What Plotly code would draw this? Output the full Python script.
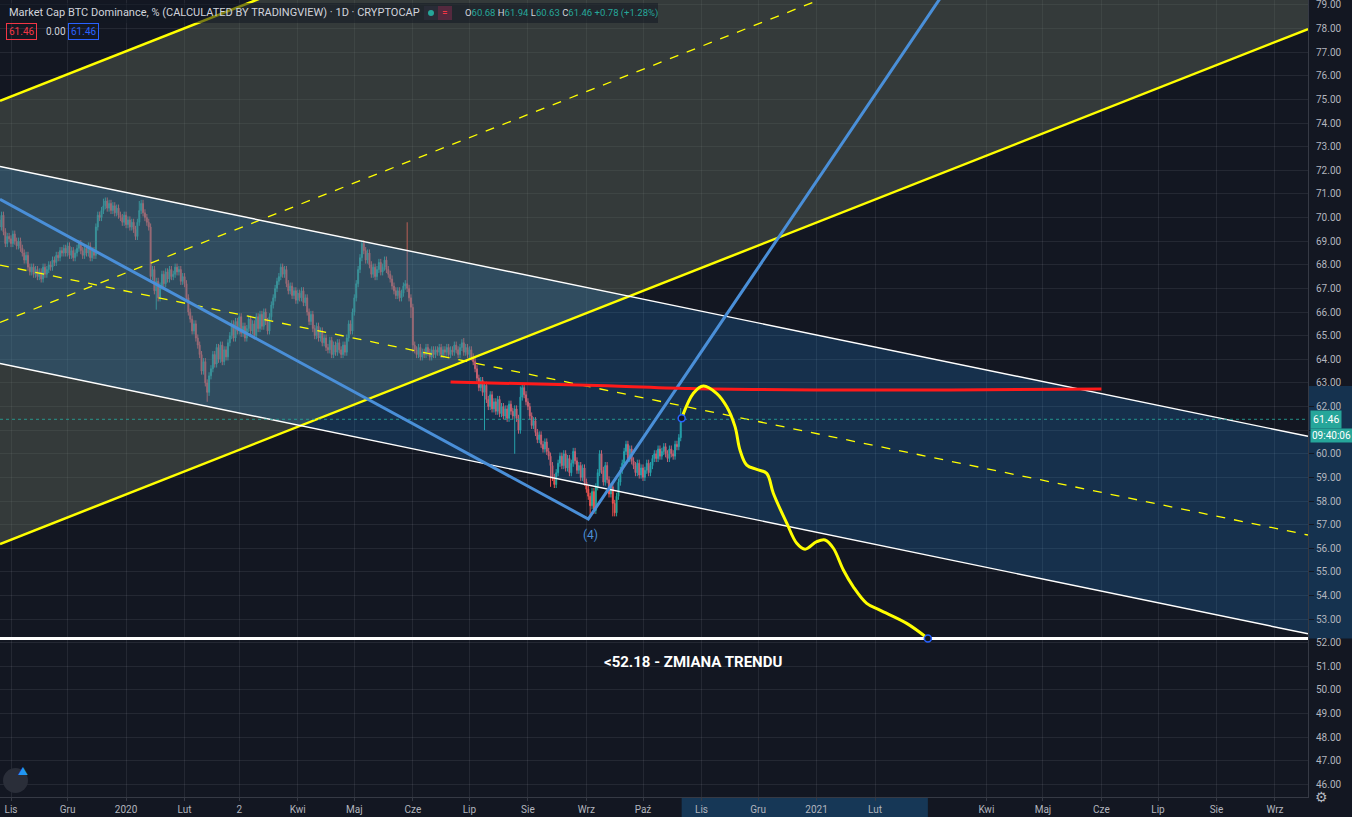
import plotly.graph_objects as go
import pandas as pd

# ---------------- data ----------------
# Daily closes, BTC dominance (%), 2019-10-26 .. 2020-10-21
closes = (
    [69.6, 70.1, 69.4, 68.9]
    + [69.2, 69.1, 68.9, 69.3, 69.0, 68.8, 69.0]
    + [68.7, 68.5, 68.2, 68.4, 67.9, 67.7, 67.9]
    + [67.6, 67.8, 67.5, 67.7, 67.4, 67.9, 67.6]
    + [67.8, 68.0, 67.9, 68.2, 68.1, 68.4, 68.3, 68.6]
    + [68.5, 68.7, 68.5, 68.8, 68.4, 68.6, 68.3, 68.5]
    + [68.7, 68.9, 68.6, 68.4, 68.7, 68.5, 68.8, 68.3, 68.6, 68.4]
    + [69.6, 70.1, 70.0, 70.3]
    + [70.5, 70.7, 70.4, 70.6, 70.3, 70.5, 70.2, 70.4, 70.1]
    + [70.0, 69.8, 70.1, 69.7, 69.9, 69.6, 69.8, 69.5, 69.2]
    + [69.8, 70.3, 70.6, 70.2, 70.0]
    + [69.8, 69.6, 67.5]
    + [67.8, 66.9, 67.3, 66.6, 67.1, 67.6, 67.2, 67.7, 67.4, 67.8, 67.5]
    + [67.6, 67.9, 67.7, 67.8, 67.3, 67.5, 67.2]
    + [66.6, 66.0, 65.7, 65.2, 65.5, 64.9, 64.6]
    + [64.2, 63.5, 63.9, 63.0, 62.6, 63.3]
    + [63.6, 64.2, 63.8, 64.5, 64.0, 64.6, 63.9, 64.4, 64.1, 64.7]
    + [65.0, 65.5, 64.9, 65.6, 65.2, 65.8, 65.1, 65.4, 64.9, 65.3, 65.7, 65.2]
    + [65.5, 65.0, 65.8, 65.3, 65.9, 65.4, 66.0, 65.6, 65.2, 65.8, 66.3]
    + [66.6, 67.0, 67.3, 67.5, 67.9, 67.6, 67.8]
    + [67.2, 66.9, 67.1, 66.7, 66.9, 66.5, 66.8, 66.6, 66.9, 66.4, 66.6]
    + [66.0, 65.6, 65.9, 65.3, 65.0, 65.4, 64.9, 65.2, 64.7, 64.9, 64.5]
    + [64.4, 64.8, 64.2, 64.6, 64.3, 64.7, 64.4, 64.2, 64.6, 64.3]
    + [64.9, 65.5, 65.2, 66.0, 66.6, 67.2, 67.8]
    + [68.3, 68.9, 68.6, 68.2, 68.5]
    + [68.0, 67.6, 67.9, 67.5, 67.8, 68.1, 67.7, 67.9, 68.2, 67.8, 67.6, 67.4, 67.1]
    + [66.9, 66.7, 66.9, 66.6, 66.8, 67.1, 67.2]
    + [67.0, 66.6, 66.2]
    + [64.6]
    + [64.4, 64.2, 64.5, 64.1, 64.3, 64.2, 64.5, 64.3, 64.1, 64.4, 64.2, 64.4, 64.3, 64.5, 64.2, 64.4, 64.3, 64.5]
    + [64.2, 64.4, 64.3, 64.6, 64.4, 64.2, 64.5, 64.7, 64.3, 64.5, 64.2, 64.4, 64.1]
    + [63.9, 63.6, 63.2, 62.8, 63.1, 62.6]
    + [62.9, 62.3, 62.0, 62.5, 61.9, 62.2, 61.8, 62.3, 61.7, 62.0, 61.6, 61.9, 61.5, 62.1, 61.8, 61.6, 61.9, 61.5, 61.0]
    + [62.4, 62.8, 62.5, 62.2, 62.0]
    + [61.6, 61.2, 61.4, 60.9, 60.6, 60.8, 60.4, 60.2, 60.5, 60.1, 59.9]
    + [59.5, 59.0, 58.7, 59.2, 59.6]
    + [59.9, 59.5, 60.0, 59.4, 59.8, 59.2, 59.6, 60.1, 59.7, 59.3, 59.5, 59.0, 59.4, 58.8, 58.5]
    + [58.2, 57.8, 58.4, 57.6, 58.6, 59.2]
    + [60.0, 59.3, 58.8, 59.5, 58.9, 58.3, 58.6, 57.9, 57.5, 58.2]
    + [58.8, 59.3, 59.6, 60.1, 60.4, 59.8, 60.2, 59.7]
    + [59.5, 59.2, 59.6, 59.1, 59.4, 59.0, 59.3, 59.6, 59.2, 59.5, 59.8]
    + [60.0, 59.8, 60.2, 59.9, 60.1, 60.3, 60.0, 59.8, 60.2, 60.0, 59.9, 60.4]
    + [60.3, 60.68, 61.46]
)
first_open = 69.9
LAST_DATE = "2020-10-21"
# notable wick extremes (index -> value)
high_spikes = {55: 70.8, 74: 70.7, 192: 69.0, 216: 69.8, 246: 64.9, 276: 62.85, 361: 61.94}
low_spikes = {83: 66.1, 110: 62.2, 218: 65.75, 219: 64.3, 257: 61.0, 273: 60.0,
              292: 58.6, 313: 57.35, 325: 57.35, 361: 60.63}
WICK = 0.15

# axis ticks
x_tick_dates = ["2019-11-01", "2019-12-01", "2020-01-01", "2020-02-01", "2020-03-01",
                "2020-04-01", "2020-05-01", "2020-06-01", "2020-07-01", "2020-08-01",
                "2020-09-01", "2020-10-01", "2020-11-01", "2020-12-01", "2021-01-01",
                "2021-02-01", "2021-04-01", "2021-05-01", "2021-06-01", "2021-07-01",
                "2021-08-01", "2021-09-01"]
x_tick_text = ["Lis", "Gru", "2020", "Lut", "2", "Kwi", "Maj", "Cze", "Lip", "Sie",
               "Wrz", "Paź", "Lis", "Gru", "2021", "Lut", "Kwi", "Maj", "Cze", "Lip",
               "Sie", "Wrz"]
y_tick_vals = list(range(46, 80))
y_hidden_labels = [61]  # covered by the price/countdown labels
X_RANGE = ["2019-10-26 04:00", "2021-09-18 12:00"]
Y_RANGE = [45.47, 79.21]

# drawings (dates / values)
edge_dates = ["2019-10-26 04:00", "2021-09-18 12:00"]
yellow_lower = [56.18, 77.98]
yellow_upper = [74.94, 96.74]
yellow_mid = [65.56, 87.36]
white_upper = [72.16, 60.74]
white_lower = [63.82, 52.38]
white_mid = [67.99, 56.56]

blue_dates = ["2019-10-26 04:00", "2020-09-02", "2021-03-08"]
blue_vals = [70.77, 57.24, 79.34]

red_dates = ["2020-06-21", "2020-09-02", "2020-10-26", "2021-01-01", "2021-03-13", "2021-06-01"]
red_vals = [63.04, 62.90, 62.76, 62.70, 62.70, 62.74]

curve_dates = ["2020-10-21 12:00", "2020-10-27 17:00", "2020-11-02", "2020-11-09",
               "2020-11-14 10:00", "2020-11-18 19:00", "2020-11-21 10:00", "2020-11-25",
               "2020-11-30 07:00", "2020-12-05 14:00", "2020-12-09 02:00", "2020-12-16 05:00",
               "2020-12-21 12:00", "2020-12-25 22:00", "2021-01-01 02:00", "2021-01-05 12:00",
               "2021-01-09 22:00", "2021-01-15 05:00", "2021-01-20 12:00", "2021-01-27 14:00",
               "2021-02-03 14:00", "2021-02-17 19:00", "2021-03-01"]
curve_vals = [61.50, 62.56, 62.87, 62.56, 61.99, 61.15, 60.16, 59.52, 59.34, 59.17,
              58.33, 57.06, 56.21, 55.96, 56.28, 56.35, 56.00, 55.08, 54.37, 53.67,
              53.38, 52.82, 52.18]

support_level = 52.18
last_price = 61.46
wave_label = ("2020-09-03", 56.56, "(4)")
note_label = ("2020-10-27 12:00", 51.18, "<b><52.18 - ZMIANA TRENDU</b>")

# ---------------- styling ----------------
BG = "#131722"
TXT = "#b2b5be"
GRID = "rgba(240,243,250,0.08)"
UP = "#26a69a"
DN = "#ef5350"
FONT = "Roboto"
W, H = 1352, 817
PW, PH = 1308, 797  # plot area in px


def px(x):
    return x / PW


def py(y):
    return 1 - y / PH


dates = pd.date_range(end=LAST_DATE, periods=len(closes), freq="D")
opens = [first_open] + closes[:-1]
highs, lows = [], []
for i, (o, c) in enumerate(zip(opens, closes)):
    h = max(o, c) + WICK
    l = min(o, c) - WICK
    if i in high_spikes:
        h = max(h, high_spikes[i])
    if i in low_spikes:
        l = min(l, low_spikes[i])
    highs.append(round(h, 2))
    lows.append(round(l, 2))

fig = go.Figure()

# yellow channel fill
fig.add_trace(go.Scatter(
    x=edge_dates + edge_dates[::-1], y=yellow_lower + yellow_upper[::-1],
    fill="toself", fillcolor="rgba(102,112,96,0.40)", mode="none", hoverinfo="skip"))
# white channel fill
fig.add_trace(go.Scatter(
    x=edge_dates + edge_dates[::-1], y=white_lower + white_upper[::-1],
    fill="toself", fillcolor="rgba(33,150,243,0.20)", mode="none", hoverinfo="skip"))

def line(xs, ys, color, width, dash="solid", shape="linear"):
    fig.add_trace(go.Scatter(x=xs, y=ys, mode="lines", hoverinfo="skip",
                             line=dict(color=color, width=width, dash=dash, shape=shape)))

# channel lines
line(edge_dates, yellow_lower, "#ffff00", 2.5)
line(edge_dates, yellow_upper, "#ffff00", 2.5)
line(edge_dates, yellow_mid, "#ffff00", 1.3, dash="dash")
line(edge_dates, white_upper, "#ffffff", 1.4)
line(edge_dates, white_lower, "#ffffff", 1.4)
line(edge_dates, white_mid, "#ffff00", 1.3, dash="dash")

# last price dotted line
line(edge_dates, [last_price, last_price], "rgba(38,166,154,0.85)", 1, dash="dot")

# candles
fig.add_trace(go.Candlestick(
    x=dates, open=opens, high=highs, low=lows, close=closes,
    increasing=dict(line=dict(color=UP, width=1), fillcolor=UP),
    decreasing=dict(line=dict(color=DN, width=1), fillcolor=DN),
    whiskerwidth=0, hoverinfo="skip"))

# blue wave line
line(blue_dates, blue_vals, "#4a8fd8", 3)
# red horizontal
line(red_dates, red_vals, "#ff1a1a", 3, shape="spline")
# support line
line(edge_dates, [support_level, support_level], "#ffffff", 3)
# freehand yellow projection
line(curve_dates, curve_vals, "#ffff00", 3, shape="spline")
fig.add_trace(go.Scatter(
    x=[curve_dates[0], curve_dates[-1]], y=[curve_vals[0], curve_vals[-1]],
    mode="markers", hoverinfo="skip",
    marker=dict(size=7, color=BG, line=dict(color="#2962ff", width=1.5))))

shapes = [
    # axis highlights for the selected drawing
    dict(type="rect", xref="paper", yref="y", x0=1.0, x1=W / PW,
         y0=min(curve_vals), y1=max(curve_vals),
         fillcolor="rgba(33,150,243,0.22)", line_width=0, layer="below"),
    dict(type="rect", xref="x", yref="paper", x0=curve_dates[0], x1=curve_dates[-1],
         y0=-20 / PH, y1=0, fillcolor="rgba(33,150,243,0.25)", line_width=0, layer="below"),
    # header band
    dict(type="rect", xref="paper", yref="paper", x0=px(0), x1=px(658), y0=py(23), y1=py(3),
         fillcolor="rgba(19,23,34,0.55)", line_width=0, layer="above"),
    # legend pills
    dict(type="rect", xref="paper", yref="paper", x0=px(424), x1=px(452), y0=py(20), y1=py(6),
         fillcolor="rgba(42,46,57,0.9)", line_width=0, layer="above"),
    dict(type="rect", xref="paper", yref="paper", x0=px(438), x1=px(452), y0=py(20), y1=py(6),
         fillcolor="rgba(120,40,70,0.55)", line_width=0, layer="above"),
    dict(type="circle", xref="paper", yref="paper", x0=px(428), x1=px(434), y0=py(16), y1=py(10),
         fillcolor=UP, line_width=0, layer="above"),
    # logo circle
    dict(type="circle", xref="paper", yref="paper", x0=px(3), x1=px(28), y0=py(793), y1=py(768),
         fillcolor="#2a2e39", line_width=0, layer="above"),
]

ann = []
ann.append(dict(xref="paper", yref="paper", x=px(7), y=py(13), xanchor="left", yanchor="middle",
                showarrow=False, text="Market Cap BTC Dominance, % (CALCULATED BY TRADINGVIEW) · 1D · CRYPTOCAP",
                font=dict(family=FONT, size=11, color="#d1d4dc")))
ann.append(dict(xref="paper", yref="paper", x=px(445), y=py(13), xanchor="center", yanchor="middle",
                showarrow=False, text="=", font=dict(family=FONT, size=10, color="#f23645")))
tc = UP
ohlc = (f"O<span style='color:{tc}'>60.68</span> H<span style='color:{tc}'>61.94</span> "
        f"L<span style='color:{tc}'>60.63</span> C<span style='color:{tc}'>61.46</span> "
        f"<span style='color:{tc}'>+0.78 (+1.28%)</span>")
ann.append(dict(xref="paper", yref="paper", x=px(463), y=py(13), xanchor="left", yanchor="middle",
                showarrow=False, text=ohlc, font=dict(family=FONT, size=9.5, color="#d1d4dc")))
ann.append(dict(xref="paper", yref="paper", x=px(6), y=py(32), xanchor="left", yanchor="middle",
                showarrow=False, text="61.46", bordercolor="#f23645", borderwidth=1, borderpad=2,
                font=dict(family=FONT, size=10, color="#f23645")))
ann.append(dict(xref="paper", yref="paper", x=px(44), y=py(32), xanchor="left", yanchor="middle",
                showarrow=False, text="0.00", font=dict(family=FONT, size=10, color="#d1d4dc")))
ann.append(dict(xref="paper", yref="paper", x=px(68), y=py(32), xanchor="left", yanchor="middle",
                showarrow=False, text="61.46", bordercolor="#2962ff", borderwidth=1, borderpad=2,
                font=dict(family=FONT, size=10, color="#2962ff")))
# right axis price labels
ann.append(dict(xref="paper", yref="y", x=px(1310), y=last_price, xanchor="left", yanchor="middle",
                showarrow=False, text="61.46", bgcolor=UP, borderpad=2,
                font=dict(family=FONT, size=10.5, color="#ffffff")))
ann.append(dict(xref="paper", yref="y", x=px(1310), y=last_price, yshift=-16,
                xanchor="left", yanchor="middle",
                showarrow=False, text="09:40:06", bgcolor=UP, borderpad=1,
                font=dict(family=FONT, size=10, color="#ffffff")))
# chart texts
ann.append(dict(x=wave_label[0], y=wave_label[1], text=wave_label[2], showarrow=False,
                font=dict(family=FONT, size=12, color="#4a8fd8")))
ann.append(dict(x=note_label[0], y=note_label[1], text=note_label[2], showarrow=False,
                font=dict(family=FONT, size=15, color="#ffffff")))
# logo glyph and settings gear
ann.append(dict(xref="paper", yref="paper", x=px(15.5), y=py(780), text="⛰", showarrow=False,
                font=dict(size=12, color="#2196f3")))
ann.append(dict(xref="paper", yref="paper", x=px(1330), y=py(807), text="⚙", showarrow=False,
                font=dict(size=14, color=TXT)))

fig.update_layout(
    width=W, height=H,
    margin=dict(l=0, r=W - PW, t=0, b=H - PH, autoexpand=False),
    paper_bgcolor=BG, plot_bgcolor=BG,
    showlegend=False, hovermode=False,
    font=dict(family=FONT, color=TXT, size=11),
    shapes=shapes, annotations=ann,
    xaxis=dict(type="date", range=X_RANGE, rangeslider=dict(visible=False),
               tickmode="array", tickvals=x_tick_dates, ticktext=x_tick_text,
               showgrid=True, gridcolor=GRID, gridwidth=1, zeroline=False,
               showline=True, linecolor="#363a45", linewidth=1,
               ticks="outside", ticklen=3, tickcolor="#363a45",
               tickfont=dict(family=FONT, size=10, color=TXT)),
    yaxis=dict(side="right", range=Y_RANGE, tickmode="array", tickvals=y_tick_vals,
               ticktext=["" if v in y_hidden_labels else f"{v:.2f}" for v in y_tick_vals],
               showgrid=True, gridcolor=GRID, gridwidth=1, zeroline=False,
               showline=True, linecolor="#363a45", linewidth=1,
               ticks="outside", ticklen=5, tickcolor=BG, ticklabeloverflow="allow",
               tickfont=dict(family=FONT, size=10, color=TXT)),
)

fig.write_html(
    "out.html",
    config={"displayModeBar": False},
    post_script="document.body.style.margin='0';document.body.style.padding='0';"
                "document.body.style.background='#131722';document.body.style.overflow='hidden';",
)
